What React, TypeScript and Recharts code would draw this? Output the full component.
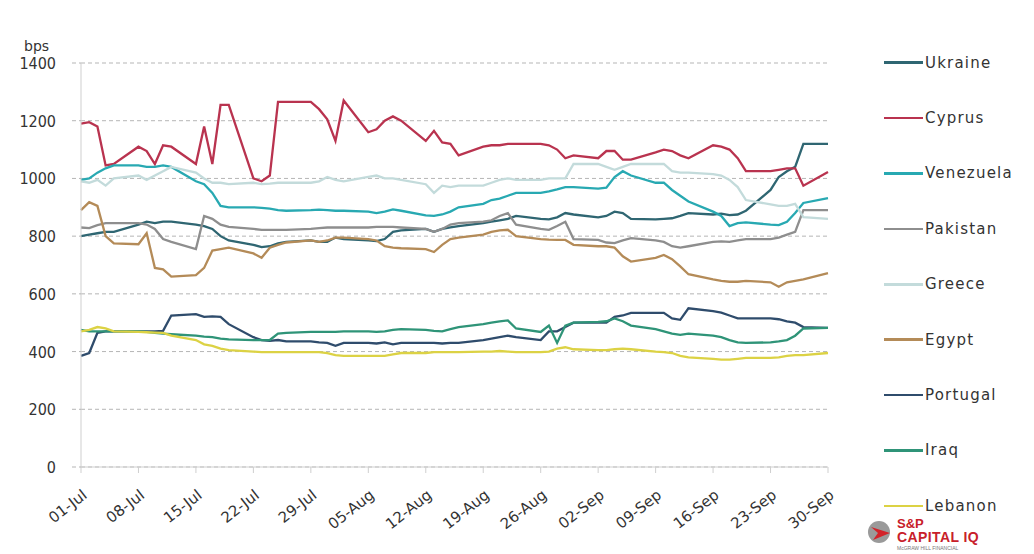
import React from 'react';
import { LineChart, Line, XAxis, YAxis, CartesianGrid } from 'recharts';

// business days, counted in days from 01-Jul
const days = [
  0, 1, 2, 3, 4, 7, 8, 9, 10, 11, 14, 15, 16, 17, 18, 21, 22, 23, 24, 25,
  28, 29, 30, 31, 32, 35, 36, 37, 38, 39, 42, 43, 44, 45, 46, 49, 50, 51, 52, 53,
  56, 57, 58, 59, 60, 63, 64, 65, 66, 67, 70, 71, 72, 73, 74, 77, 78, 79, 80, 81,
  84, 85, 86, 87, 88, 91,
];

const tickDays = [0, 7, 14, 21, 28, 35, 42, 49, 56, 63, 70, 77, 84, 91];
const tickLabels = [
  '01-Jul', '08-Jul', '15-Jul', '22-Jul', '29-Jul', '05-Aug', '12-Aug',
  '19-Aug', '26-Aug', '02-Sep', '09-Sep', '16-Sep', '23-Sep', '30-Sep',
];
const yTicks = [0, 200, 400, 600, 800, 1000, 1200, 1400];

const ukraine = [
  800, 805, 810, 815, 815, 840, 850, 845, 850, 850, 840, 835, 825, 800, 785,
  770, 762, 765, 775, 780, 785, 780, 780, 795, 790, 785, 783, 790, 815, 820,
  825, 815, 825, 830, 835, 845, 850, 855, 860, 870, 860, 858, 865, 880, 875,
  865, 870, 885, 880, 860, 858, 860, 862, 870, 880, 875, 878, 873, 875, 888,
  960, 1005, 1025, 1040, 1120, 1120,
];
const cyprus = [
  1190, 1195, 1180, 1045, 1050, 1110, 1095, 1050, 1115, 1110, 1050, 1180, 1050, 1255, 1255,
  1000, 990, 1010, 1265, 1265, 1265, 1240, 1205, 1130, 1270, 1160, 1170, 1200, 1215, 1200,
  1130, 1165, 1125, 1120, 1080, 1110, 1115, 1115, 1120, 1120, 1120, 1115, 1100, 1070, 1080,
  1070, 1095, 1095, 1065, 1065, 1090, 1100, 1095, 1080, 1070, 1115, 1110, 1100, 1070, 1025,
  1025, 1030, 1035, 1035, 975, 1022,
];
const venezuela = [
  995, 1000, 1020, 1035, 1045, 1045, 1040, 1040, 1045, 1040, 990, 980, 950, 905, 900,
  900, 898, 895, 890, 888, 890, 892, 890, 888, 888, 885, 880, 885, 893, 888,
  872, 870, 875, 885, 900, 912, 925, 930, 940, 950, 950, 955, 962, 970, 970,
  965, 968, 1005, 1025, 1010, 985, 985, 960, 940, 920, 885, 870, 835, 845, 848,
  840, 838, 850, 880, 915, 932,
];
const pakistan = [
  830, 828, 838, 845, 845, 845, 840, 825, 790, 780, 755, 870, 860, 840, 832,
  825, 822, 822, 822, 822, 825, 828, 830, 830, 830, 830, 832, 832, 832, 830,
  825, 815, 825, 840, 845, 850, 855, 870, 880, 840, 825, 822, 835, 850, 790,
  787, 778, 776, 785, 793, 785, 780, 765, 760, 765, 780, 782, 780, 785, 790,
  790, 795, 805, 815, 890, 890,
];
const greece = [
  990, 985, 995, 975, 1000, 1010, 995, 1010, 1025, 1040, 1020, 1000, 985, 985, 980,
  985, 980, 982, 985, 985, 985, 990, 1005, 995, 990, 1005, 1010, 1000, 1000, 995,
  980, 950, 975, 970, 975, 975, 985, 995, 1000, 995, 995, 1000, 1000, 1000, 1050,
  1050, 1040, 1030, 1040, 1050, 1050, 1050, 1025, 1020, 1020, 1015, 1010, 995, 970, 925,
  910, 905, 905, 912, 866, 860,
];
const egypt = [
  890, 918, 905, 800, 775, 772, 810, 690, 685, 660, 665, 690, 750, 755, 760,
  740, 725, 760, 770, 778, 785, 780, 785, 795, 795, 790, 785, 765, 760, 758,
  755, 745, 770, 790, 795, 805, 815, 820, 822, 800, 790, 788, 787, 787, 770,
  765, 765, 760, 730, 712, 725, 735, 720, 695, 668, 650, 645, 642, 642, 645,
  640, 625, 640, 645, 650, 672,
];
const portugal = [
  385, 395, 465, 470, 470, 470, 470, 470, 472, 525, 530, 520, 522, 520, 495,
  450, 440, 437, 440, 435, 435, 432, 430, 420, 430, 430, 428, 432, 425, 430,
  430, 430, 428, 430, 430, 440, 445, 450, 455, 450, 440, 470, 470, 485, 500,
  500, 500, 520, 525, 534, 534, 534, 515, 510, 550, 540, 535, 525, 515, 515,
  515, 512, 505, 500, 485, 482,
];
const iraq = [
  475, 470, 470, 470, 470, 470, 468, 465, 462, 460, 455, 452, 450, 445, 442,
  440, 440, 440, 462, 465, 468, 468, 468, 468, 470, 470, 468, 470, 475, 478,
  475, 472, 470, 478, 485, 495, 500, 505, 508, 480, 468, 490, 430, 490, 500,
  503, 505, 515, 505, 490, 478, 470, 462, 458, 462, 455, 450, 440, 432, 430,
  432, 435, 440, 455, 480, 482,
];
const lebanon = [
  470, 475, 485, 480, 470, 468, 467, 466, 465, 455, 440, 425, 420, 410, 405,
  400, 398, 398, 398, 398, 398, 398, 395, 388, 385, 385, 385, 385, 390, 395,
  395, 398, 398, 398, 398, 400, 400, 402, 400, 398, 398, 400, 410, 415, 408,
  405, 405, 408, 410, 408, 400, 398, 395, 385, 380, 375, 372, 372, 375, 378,
  378, 380, 385, 388, 388, 395,
];

const series = [
  { key: 'Ukraine', values: ukraine, color: '#2f6672' },
  { key: 'Cyprus', values: cyprus, color: '#b9334f' },
  { key: 'Venezuela', values: venezuela, color: '#28a9b2' },
  { key: 'Pakistan', values: pakistan, color: '#8e8e8e' },
  { key: 'Greece', values: greece, color: '#c3dbdb' },
  { key: 'Egypt', values: egypt, color: '#b48b58' },
  { key: 'Portugal', values: portugal, color: '#2f4c6c' },
  { key: 'Iraq', values: iraq, color: '#2f9478' },
  { key: 'Lebanon', values: lebanon, color: '#dcd244' },
];

const data = days.map((d, i) => {
  const row: Record<string, number> = { day: d };
  series.forEach((s) => {
    row[s.key] = s.values[i];
  });
  return row;
});

const textFont = '"DejaVu Sans", sans-serif';
const narrowFont = '"DejaVu Sans Condensed", "Liberation Sans Narrow", "DejaVu Sans", sans-serif';

const XTick = (props: any) => {
  const { x, y, payload } = props;
  const idx = tickDays.indexOf(payload.value);
  return (
    <g transform={`translate(${x + 7},${y + 22})`}>
      <text
        transform="rotate(-38)"
        textAnchor="end"
        fontSize={15}
        fontFamily={textFont}
        fill="#333"
      >
        {tickLabels[idx]}
      </text>
    </g>
  );
};

const YTick = (props: any) => {
  const { y, payload } = props;
  return (
    <text
      x={56}
      y={y}
      dy={6}
      textAnchor="end"
      fontSize={16}
      fontFamily={narrowFont}
      fill="#333"
    >
      {payload.value}
    </text>
  );
};

// legend drawn beside the plot, like the original
const LegendBox = () => (
  <div
    style={{
      position: 'absolute',
      left: 884,
      top: 35,
      fontFamily: textFont,
    }}
  >
    {series.map((s) => (
      <div
        key={s.key}
        style={{ display: 'flex', alignItems: 'center', height: 55.4 }}
      >
        <div style={{ width: 39, height: 2.5, background: s.color }} />
        <span style={{ fontSize: 15, color: '#333', marginLeft: 2, letterSpacing: 1.2 }}>
          {s.key}
        </span>
      </div>
    ))}
  </div>
);

const Logo = () => (
  <div
    style={{
      position: 'absolute',
      left: 866,
      top: 517,
      display: 'flex',
      alignItems: 'flex-start',
      fontFamily: '"Liberation Sans", sans-serif',
    }}
  >
    <svg width={28} height={28} viewBox="0 0 28 28">
      <circle cx={13} cy={15} r={11} fill="#9a9a9a" />
      <path d="M5 10 L24 16 L7 23 L12 16 Z" fill="#d2232a" />
    </svg>
    <div style={{ marginLeft: 3, lineHeight: 1 }}>
      <div style={{ color: '#c8202a', fontWeight: 'bold', fontSize: 13 }}>S&amp;P</div>
      <div style={{ color: '#c8202a', fontWeight: 'bold', fontSize: 14, letterSpacing: 0.4 }}>
        CAPITAL IQ
      </div>
      <div style={{ color: '#777', fontSize: 5, marginTop: 2, whiteSpace: 'nowrap' }}>
        McGRAW HILL FINANCIAL
      </div>
    </div>
  </div>
);

export default function App() {
  return (
    <div style={{ position: 'absolute', left: 0, top: 0, width: 1034, height: 554, background: '#fff' }}>
      <div
        style={{
          position: 'absolute',
          left: 24,
          top: 38,
          fontFamily: textFont,
          fontSize: 14,
          color: '#333',
        }}
      >
        bps
      </div>
      <LineChart
        width={1034}
        height={554}
        data={data}
        margin={{ top: 63, right: 206, bottom: 27, left: 21 }}
      >
        <CartesianGrid
          horizontal
          vertical={false}
          stroke="#b5b5b5"
          strokeDasharray="4 3"
        />
        <XAxis
          dataKey="day"
          type="number"
          domain={[0, 91]}
          ticks={tickDays}
          interval={0}
          height={60}
          stroke="#cfcfcf"
          tickSize={6}
          tick={<XTick />}
        />
        <YAxis
          domain={[0, 1400]}
          ticks={yTicks}
          width={60}
          stroke="#cfcfcf"
          tickSize={9}
          tickLine={{ stroke: '#b5b5b5', strokeDasharray: '4 3' }}
          tick={<YTick />}
        />
        {series.map((s) => (
          <Line
            key={s.key}
            dataKey={s.key}
            stroke={s.color}
            strokeWidth={2.3}
            dot={false}
            type="linear"
            isAnimationActive={false}
          />
        ))}
      </LineChart>
      <LegendBox />
      <Logo />
    </div>
  );
}
